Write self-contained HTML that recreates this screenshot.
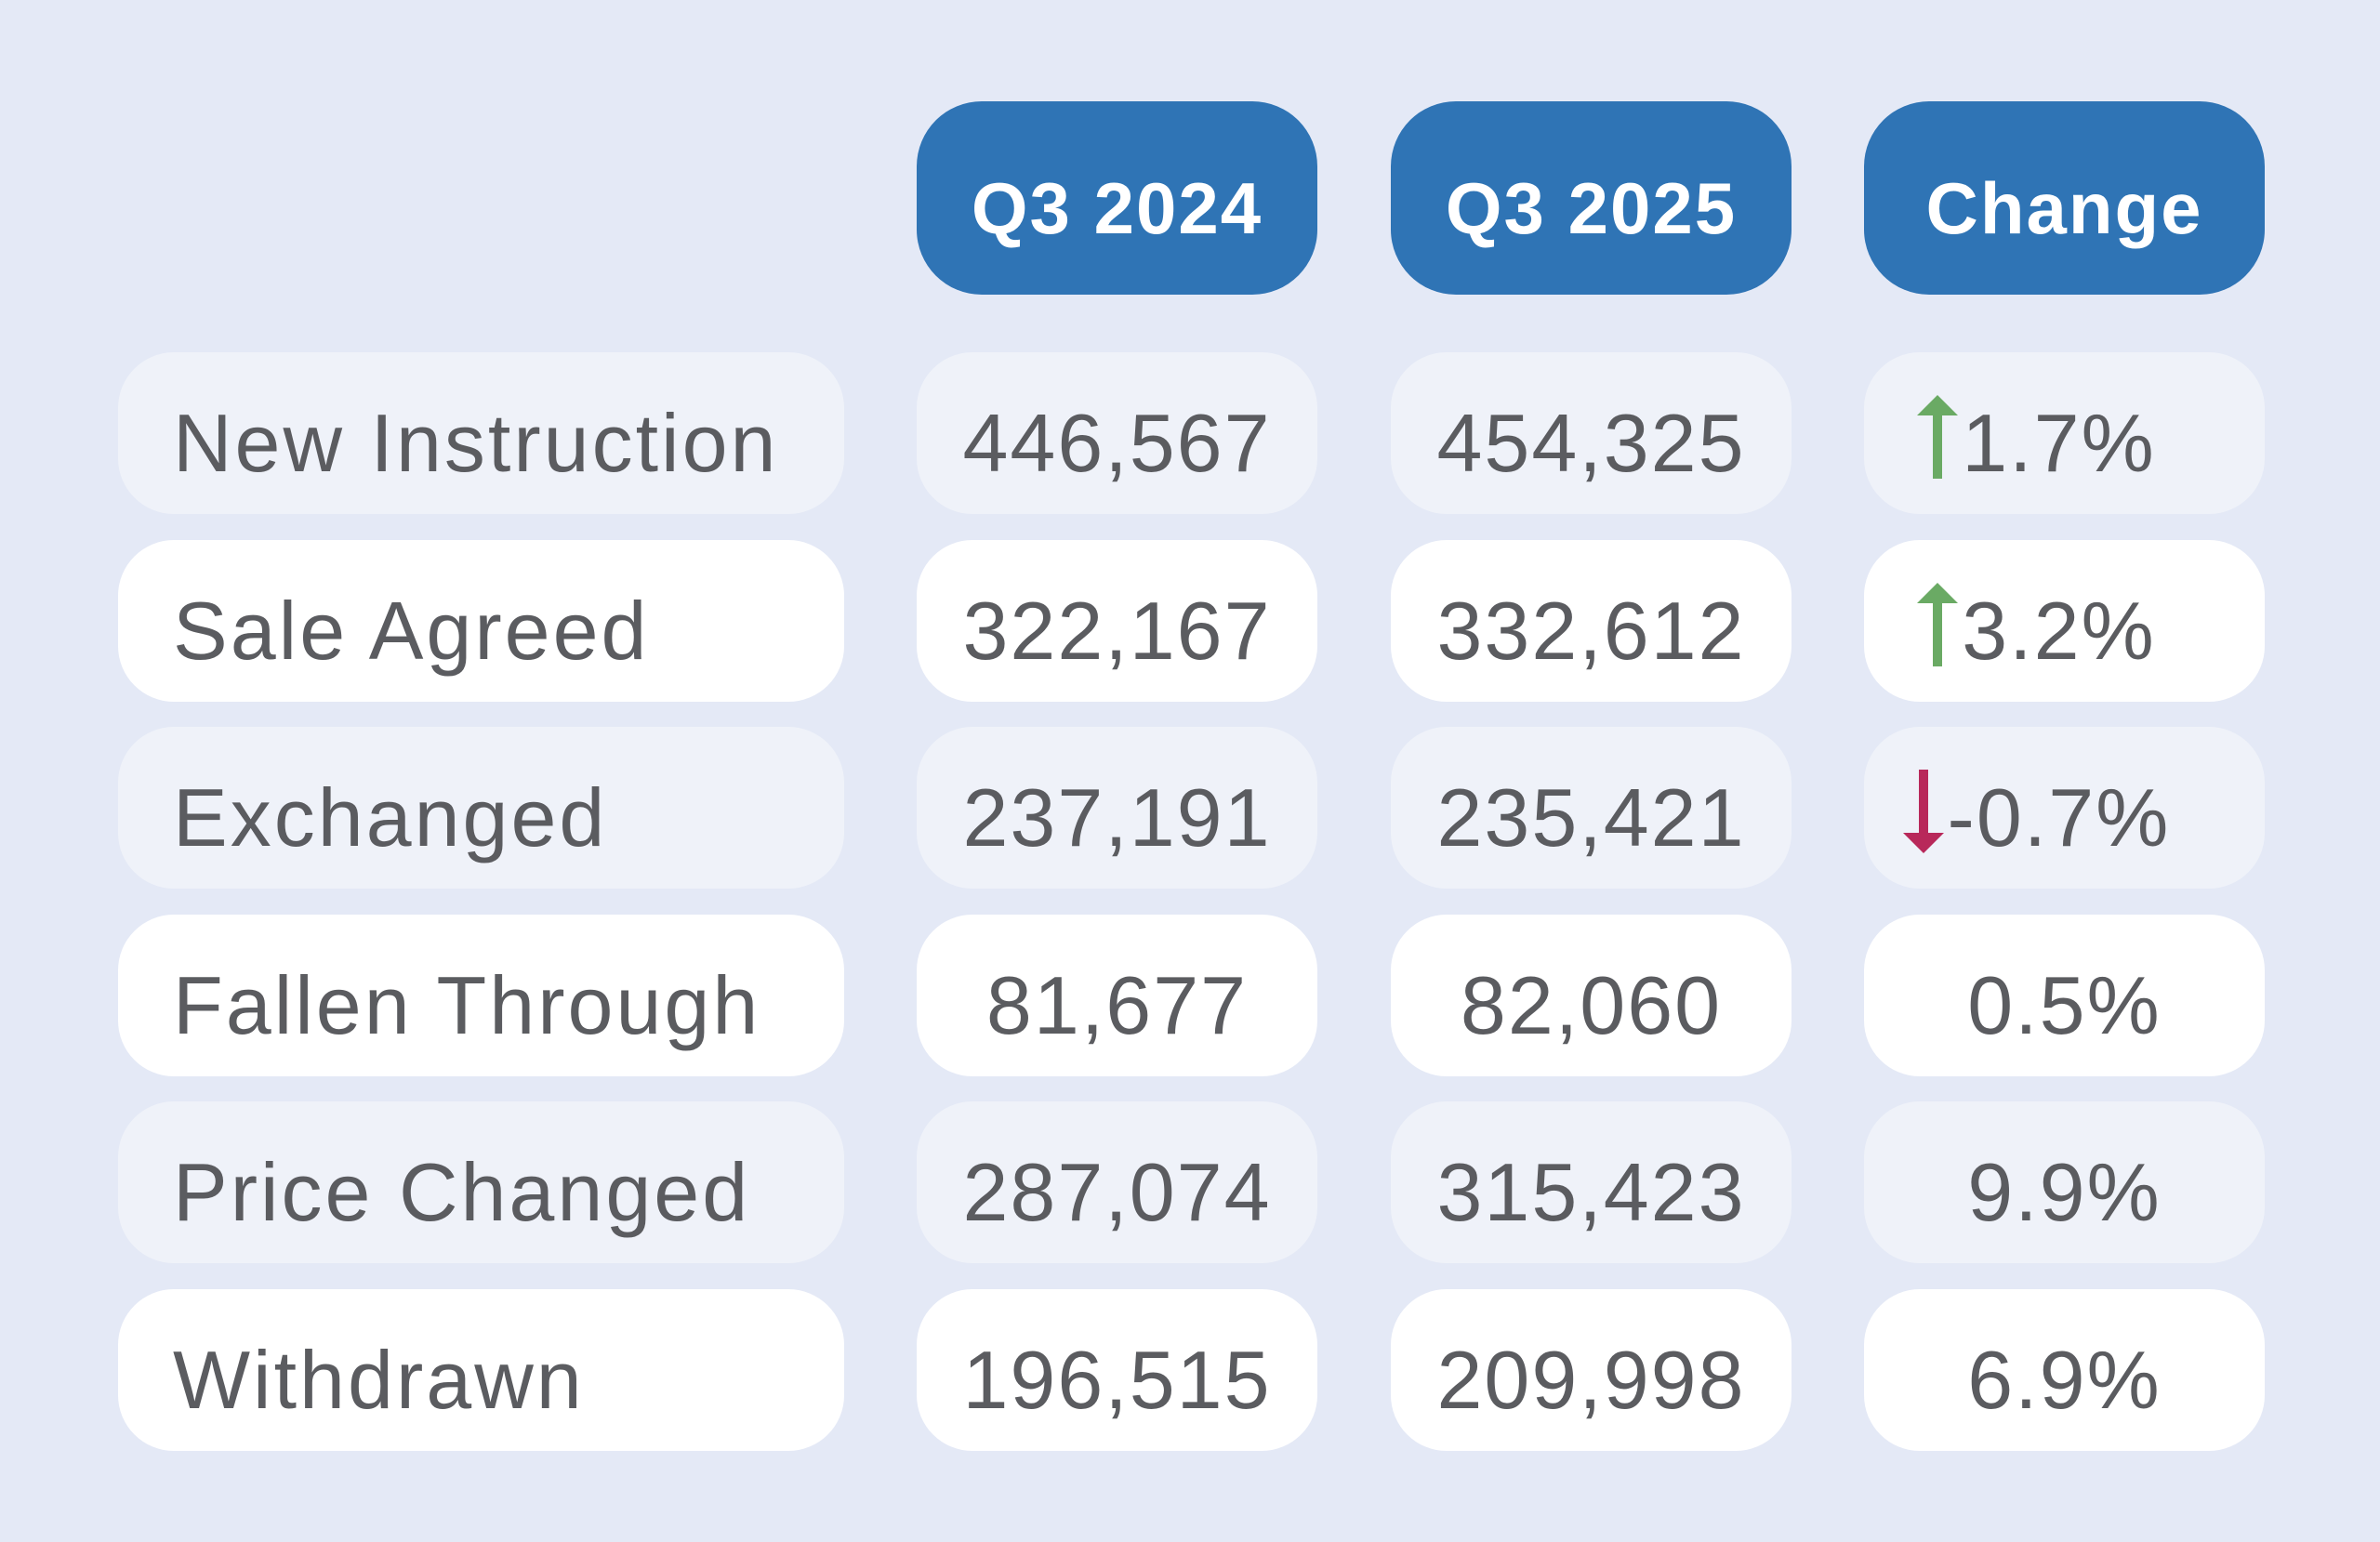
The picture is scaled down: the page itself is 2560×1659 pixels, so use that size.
<!DOCTYPE html>
<html><head><meta charset="utf-8">
<style>
html,body{margin:0;padding:0}
body{width:2560px;height:1659px;background:#e4e9f6;position:relative;overflow:hidden;font-family:"Liberation Sans",sans-serif}
.h{position:absolute;top:109px;height:208px;width:431px;background:#2f74b5;border-radius:70px;color:#fff;font-weight:bold;font-size:78px;letter-spacing:2px;display:flex;align-items:center;justify-content:center;padding-top:22px;box-sizing:border-box}
.c{position:absolute;height:174px;border-radius:60px;display:flex;align-items:center;justify-content:center;color:#5b5c60;font-size:88px;letter-spacing:2px;padding-top:22px;box-sizing:border-box}
.lbl{justify-content:flex-start;padding-left:59px;letter-spacing:3px}
.odd{background:#eff2f9}
.even{background:#ffffff}
svg{margin-right:4px;margin-top:-14px}
</style></head><body>
<div class="h" style="left:986px">Q3 2024</div>
<div class="h" style="left:1496px">Q3 2025</div>
<div class="h" style="left:2005px">Change</div>
<div id="rows"></div>
<script>
const labels=["New Instruction","Sale Agreed","Exchanged","Fallen Through","Price Changed","Withdrawn"];
const q2024=["446,567","322,167","237,191","81,677","287,074","196,515"];
const q2025=["454,325","332,612","235,421","82,060","315,423","209,998"];
const changes=["1.7%","3.2%","-0.7%","0.5%","9.9%","6.9%"];
const arrows=["up","up","down","","",""];
const up='<svg width="44" height="90" viewBox="0 0 44 90"><polygon points="22,0 44,22 27,22 27,90 17,90 17,22 0,22" fill="#6aaa64"/></svg>';
const down='<svg width="44" height="90" viewBox="0 0 44 90"><polygon points="22,90 44,68 27,68 27,0 17,0 17,68 0,68" fill="#b8285a"/></svg>';
const root=document.getElementById('rows');
const cols=[[127,781],[986,431],[1496,431],[2005,431]];
labels.forEach((l,i)=>{
  const top=379+i*201.5;
  const vals=[l,q2024[i],q2025[i],changes[i]];
  const names=['row-label','value-q3-2024','value-q3-2025','value-change'];
  vals.forEach((v,j)=>{
    const d=document.createElement('div');
    
    
    d.className='c '+(i%2?'even':'odd')+(j===0?' lbl':'');
    d.style.left=cols[j][0]+'px';d.style.width=cols[j][1]+'px';d.style.top=top+'px';
    if(j===3&&arrows[i]){d.innerHTML=(arrows[i]==='up'?up:down)+'<span>'+v+'</span>';d.style.paddingRight='60px';}
    else d.textContent=v;
    root.appendChild(d);
  });
});
</script>
</body></html>
